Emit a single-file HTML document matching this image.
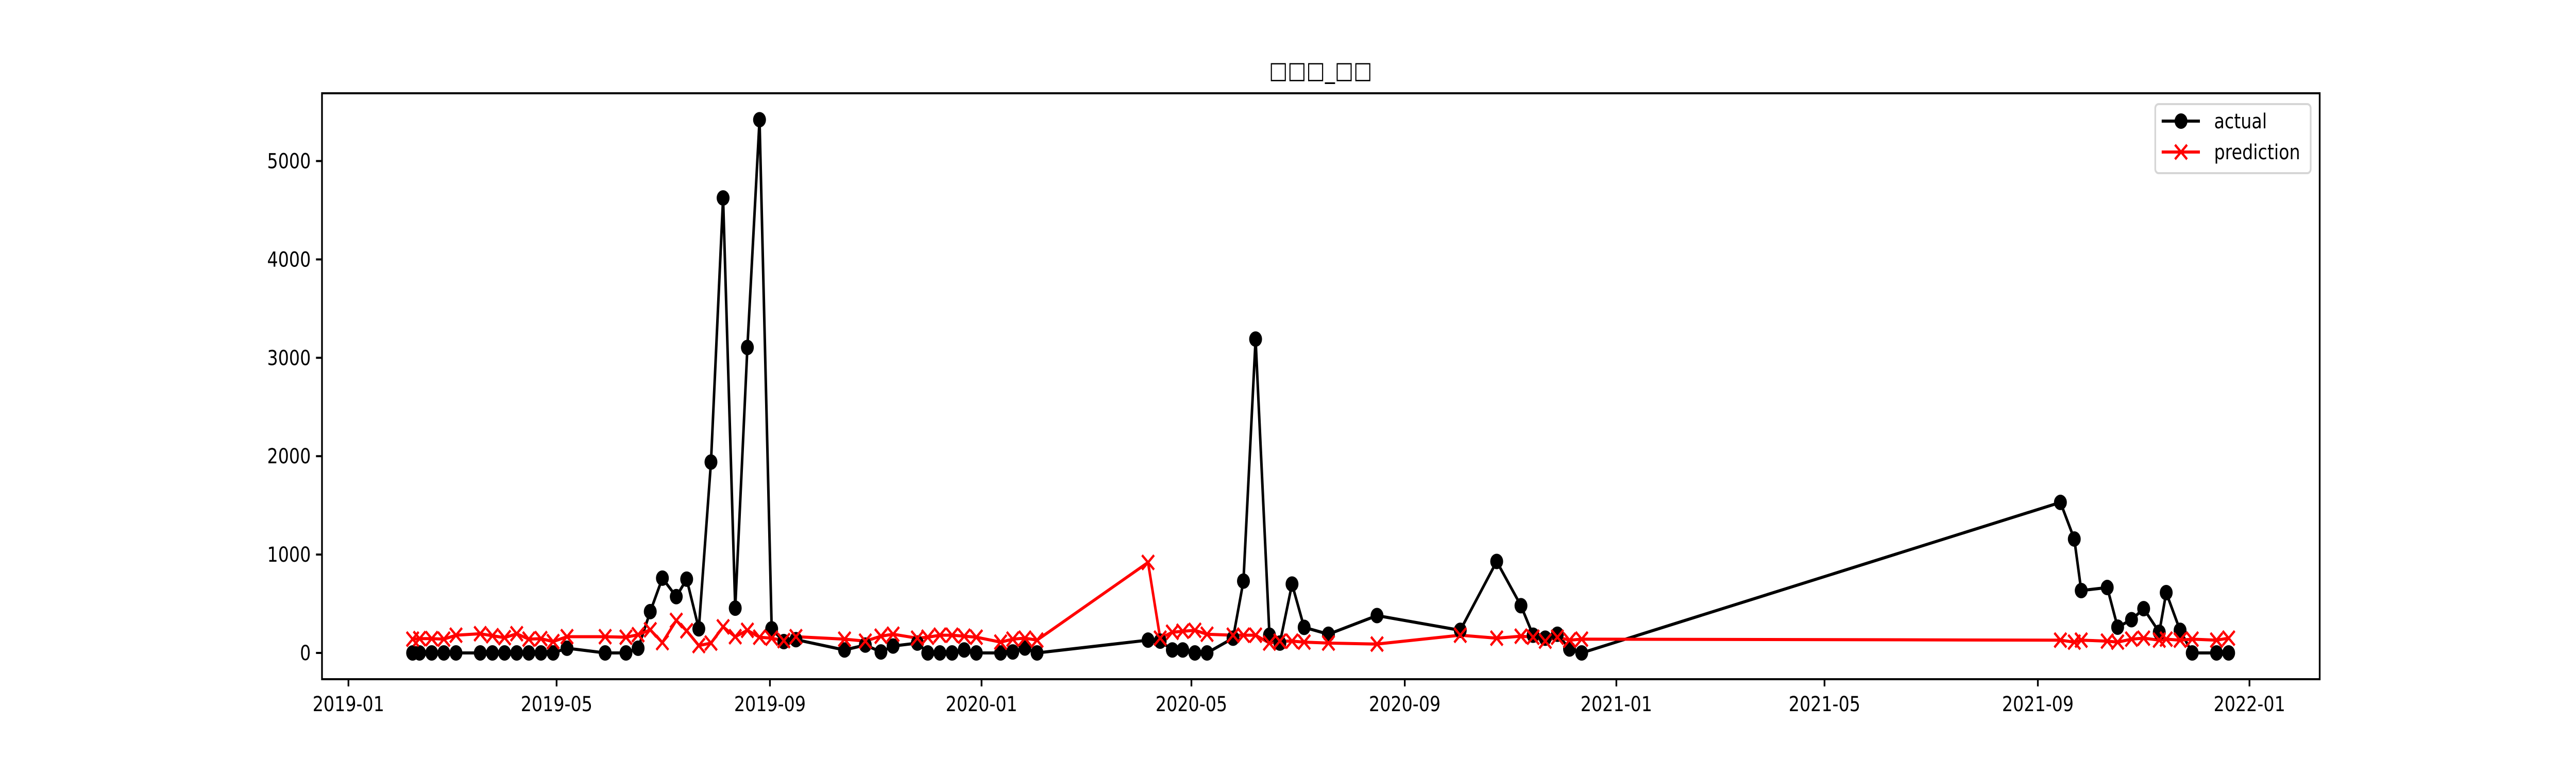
<!DOCTYPE html>
<html><head><meta charset="utf-8"><style>
html,body{margin:0;padding:0;background:#fff;width:100%;height:100%;overflow:hidden;}
svg{display:block;position:absolute;left:0;top:0;width:100vw;height:100vh;font-family:"DejaVu Sans","Liberation Sans","Noto Sans CJK SC",sans-serif;}
</style></head><body>
<svg id="chart" viewBox="0 0 6000 1500" preserveAspectRatio="none" xmlns="http://www.w3.org/2000/svg">
<rect x="0" y="0" width="6000" height="1500" fill="#fff"/>
<text x="3076" y="152" font-size="46" text-anchor="middle">□□□_□□</text>
<g id="plot"></g>
<rect x="750" y="181" width="4653" height="1137" fill="none" stroke="#000" stroke-width="4"/>
<g>
<rect x="5020" y="202" width="362" height="134" rx="8" fill="#fff" fill-opacity="0.8" stroke="#d6d6d6" stroke-width="4"/>
<line x1="5035" y1="235" x2="5124" y2="235" stroke="#000" stroke-width="6"/>
<circle cx="5080" cy="235" r="15" fill="#000"/>
<text x="5157" y="249" font-size="40">actual</text>
<line x1="5035" y1="295" x2="5124" y2="295" stroke="#f00" stroke-width="6"/>
<path d="M5066 281 L5094 309 M5066 309 L5094 281" stroke="#f00" stroke-width="5"/>
<text x="5157" y="309" font-size="40">prediction</text>
</g>
</svg>
<script>
const dates = ["2019-02-07","2019-02-11","2019-02-18","2019-02-25","2019-03-04","2019-03-18","2019-03-25","2019-04-01","2019-04-08","2019-04-15","2019-04-22","2019-04-29","2019-05-07","2019-05-29","2019-06-10","2019-06-17","2019-06-24","2019-07-01","2019-07-09","2019-07-15","2019-07-22","2019-07-29","2019-08-05","2019-08-12","2019-08-19","2019-08-26","2019-09-02","2019-09-09","2019-09-16","2019-10-14",
"2019-10-26","2019-11-04","2019-11-11","2019-11-25","2019-12-01","2019-12-08","2019-12-15","2019-12-22","2019-12-29","2020-01-12","2020-01-19","2020-01-26","2020-02-02",
"2020-04-06","2020-04-13","2020-04-20","2020-04-26","2020-05-03","2020-05-10","2020-05-25","2020-05-31","2020-06-07","2020-06-15","2020-06-21","2020-06-28","2020-07-05","2020-07-19","2020-08-16","2020-10-03","2020-10-24","2020-11-07","2020-11-14","2020-11-21","2020-11-28","2020-12-05","2020-12-12",
"2021-09-14","2021-09-22","2021-09-26","2021-10-11","2021-10-17","2021-10-25","2021-11-01","2021-11-10","2021-11-14","2021-11-22","2021-11-29","2021-12-13","2021-12-20"];
const actualValues = [0,0,0,0,0,0,0,0,0,0,0,0,48,0,0,48,420,760,572,750,245,1940,4625,455,3105,5420,245,115,135,30,
80,10,70,100,0,0,0,30,0,0,10,50,0,
130,120,30,30,0,0,150,730,3190,180,100,700,260,190,380,230,930,480,180,150,190,40,0,
1530,1158,634,665,262,338,450,210,613,230,0,0,0];
const predictionValues = [140,145,145,140,180,195,175,155,195,140,145,115,165,165,160,185,235,105,330,225,75,100,265,165,230,160,150,125,165,140,
120,170,190,150,160,180,180,170,160,110,140,150,130,
920,150,210,220,230,190,180,180,180,100,120,120,110,100,90,180,150,170,160,120,160,130,140,
130,110,130,120,110,140,150,130,140,130,140,130,150];
const yTicks = [0,1000,2000,3000,4000,5000];
const xTickLabels = ["2019-01","2019-05","2019-09","2020-01","2020-05","2020-09","2021-01","2021-05","2021-09","2022-01"];

const NS="http://www.w3.org/2000/svg";
const X0=811.6, PXD=4.04, Y0=1267, PXV=0.1909;
const T0=Date.UTC(2019,0,1);
function dayOf(s){const p=s.split("-").map(Number);return (Date.UTC(p[0],p[1]-1,p[2]||1)-T0)/86400000;}
function xs(s){return X0+dayOf(s)*PXD;}
function ys(v){return Y0-v*PXV;}
const plot=document.getElementById("plot");
const svg=document.getElementById("chart");
function mk(tag,attrs,parent){const e=document.createElementNS(NS,tag);for(const k in attrs)e.setAttribute(k,attrs[k]);(parent||plot).appendChild(e);return e;}

yTicks.forEach(v=>{
  const y=ys(v);
  const t=mk("line",{x1:736,y1:y,x2:750,y2:y,stroke:"#000","stroke-width":4},svg);
  
  
  const l=mk("text",{x:724,y:y+14,"font-size":40,"text-anchor":"end"},svg);
  l.textContent=String(v);
  
  
});
xTickLabels.forEach(s=>{
  const x=xs(s);
  const t=mk("line",{x1:x,y1:1318,x2:x,y2:1332,stroke:"#000","stroke-width":4},svg);
  
  
  const l=mk("text",{x:x,y:1380,"font-size":40,"text-anchor":"middle"},svg);
  l.textContent=s;
  
  
});

const ap=dates.map((d,i)=>xs(d).toFixed(1)+","+ys(actualValues[i]).toFixed(1)).join(" ");
const al=mk("polyline",{points:ap,fill:"none",stroke:"#000","stroke-width":6,"stroke-linejoin":"round"});


const pp=dates.map((d,i)=>xs(d).toFixed(1)+","+ys(predictionValues[i]).toFixed(1)).join(" ");
const pl=mk("polyline",{points:pp,fill:"none",stroke:"#f00","stroke-width":6,"stroke-linejoin":"round"});


dates.forEach((d,i)=>{
  const c=mk("circle",{cx:xs(d),cy:ys(actualValues[i]),r:15,fill:"#000"});
  
  
});
dates.forEach((d,i)=>{
  const x=xs(d),y=ys(predictionValues[i]),s=14;
  const m=mk("path",{d:`M${x-s} ${y-s} L${x+s} ${y+s} M${x-s} ${y+s} L${x+s} ${y-s}`,stroke:"#f00","stroke-width":5});
  
  
});
</script>
</body></html>
